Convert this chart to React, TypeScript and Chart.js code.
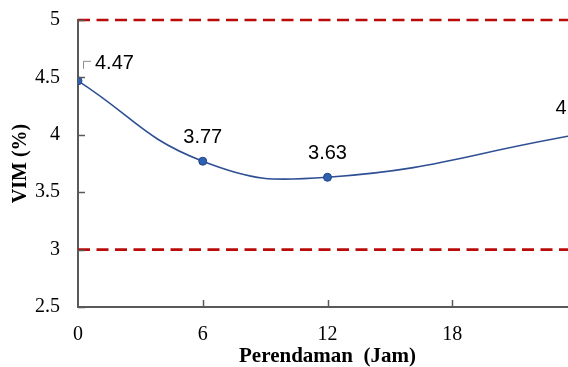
import React, { useEffect, useRef } from 'react';
import { Chart, registerables } from 'chart.js';

Chart.register(...registerables);

const hours = [0, 6, 12, 24];
const vim = [4.47, 3.77, 3.63, 4.0];
const vimLabels = ['4.47', '3.77', '3.63', '4'];
const upperLimit = 5;
const lowerLimit = 3;
const limitSpan = [0, 24];
const xTicks = [0, 6, 12, 18];
const yMin = 2.5;
const yMax = 5;
const yStep = 0.5;
const xTitle = 'Perendaman  (Jam)';
const yTitle = 'VIM (%)';

const decor = {
  id: 'decor',
  afterDatasetsDraw(chart: any) {
    const ctx = chart.ctx;
    const xs = chart.scales.x;
    const ys = chart.scales.y;
    const area = chart.chartArea;
    ctx.save();
    ctx.strokeStyle = '#595959';
    ctx.lineWidth = 1.5;
    ys.ticks.forEach((t: any) => {
      const y = Math.round(ys.getPixelForValue(t.value)) + 0.5;
      ctx.beginPath();
      ctx.moveTo(area.left, y);
      ctx.lineTo(area.left + 7, y);
      ctx.stroke();
    });
    xs.ticks.forEach((t: any) => {
      if (t.value === xs.min) return;
      const x = Math.round(xs.getPixelForValue(t.value)) + 0.5;
      ctx.beginPath();
      ctx.moveTo(x, area.bottom);
      ctx.lineTo(x, area.bottom - 7);
      ctx.stroke();
    });
    const meta = chart.getDatasetMeta(0);
    ctx.font = '20px "Liberation Sans"';
    ctx.fillStyle = '#000';
    ctx.textBaseline = 'middle';
    const last = meta.data.length - 1;
    meta.data.forEach((pt: any, i: number) => {
      const x = pt.x;
      const y = pt.y;
      if (i === 0) {
        ctx.strokeStyle = '#8c8c8c';
        ctx.lineWidth = 1;
        ctx.beginPath();
        ctx.moveTo(x + 5.5, y - 12);
        ctx.lineTo(x + 5.5, y - 19.5);
        ctx.lineTo(x + 13, y - 19.5);
        ctx.stroke();
        ctx.textAlign = 'left';
        ctx.fillText(vimLabels[i], x + 17, y - 17);
      } else if (i === last) {
        ctx.textAlign = 'center';
        ctx.fillText(vimLabels[i], x - 16, y - 26);
      } else {
        ctx.textAlign = 'center';
        ctx.fillText(vimLabels[i], x, y - 24);
      }
    });
    ctx.restore();
  },
};

export default function App() {
  const ref = useRef<HTMLCanvasElement | null>(null);
  useEffect(() => {
    if (!ref.current) return;
    const serif = '"Liberation Serif", "Times New Roman", serif';
    const chart = new Chart(ref.current, {
      type: 'line',
      data: {
        datasets: [
          {
            data: hours.map((h, i) => ({ x: h, y: vim[i] })),
            borderColor: '#2f4f94',
            borderWidth: 1.6,
            tension: 0.45,
            pointRadius: 4,
            pointBackgroundColor: '#3060b0',
            pointBorderColor: '#23468a',
            pointBorderWidth: 1,
            fill: false,
          },
          {
            data: limitSpan.map((h) => ({ x: h, y: upperLimit })),
            borderColor: '#bb0a0a',
            borderWidth: 2.6,
            borderDash: [12, 6.5],
            pointRadius: 0,
            fill: false,
            clip: false,
          },
          {
            data: limitSpan.map((h) => ({ x: h, y: lowerLimit })),
            borderColor: '#bb0a0a',
            borderWidth: 2.6,
            borderDash: [12, 6.5],
            pointRadius: 0,
            fill: false,
            clip: false,
          },
        ],
      },
      options: {
        animation: false,
        responsive: false,
        devicePixelRatio: 1,
        layout: { padding: { top: 20, right: 23, left: 0, bottom: 11 } },
        plugins: { legend: { display: false }, tooltip: { enabled: false } },
        scales: {
          x: {
            type: 'linear',
            min: limitSpan[0],
            max: limitSpan[1],
            afterBuildTicks: (s: any) => {
              s.ticks = xTicks.map((v) => ({ value: v }));
            },
            afterFit: (s: any) => {
              s.height = 62;
              s.paddingLeft = 0;
              s.paddingRight = 0;
            },
            ticks: {
              color: '#000',
              font: { family: serif, size: 20 },
              padding: 16,
              maxRotation: 0,
            },
            grid: { display: false, drawTicks: false },
            border: { display: true, color: '#595959', width: 2 },
            title: {
              display: true,
              text: xTitle,
              color: '#000',
              font: { family: serif, size: 21, weight: 'bold' },
              padding: { top: 0, bottom: 0 },
            },
          },
          y: {
            min: yMin,
            max: yMax,
            afterFit: (s: any) => {
              s.width = 78;
              s.paddingTop = 0;
              s.paddingBottom = 0;
            },
            ticks: {
              stepSize: yStep,
              color: '#000',
              font: { family: serif, size: 20 },
              padding: 18,
              callback: (v: any) => String(Number(v)),
            },
            grid: { display: false, drawTicks: false },
            border: { display: true, color: '#595959', width: 2 },
            title: {
              display: true,
              text: yTitle,
              color: '#000',
              font: { family: serif, size: 20, weight: 'bold' },
              padding: { top: 9, bottom: 0 },
            },
          },
        },
      },
      plugins: [decor],
    } as any);
    return () => chart.destroy();
  }, []);
  return (
    <div
      style={{
        position: 'absolute',
        left: 0,
        top: 0,
        width: 568,
        height: 367,
        overflow: 'hidden',
        background: '#fff',
      }}
    >
      <canvas ref={ref} width={600} height={380} style={{ display: 'block' }} />
    </div>
  );
}
